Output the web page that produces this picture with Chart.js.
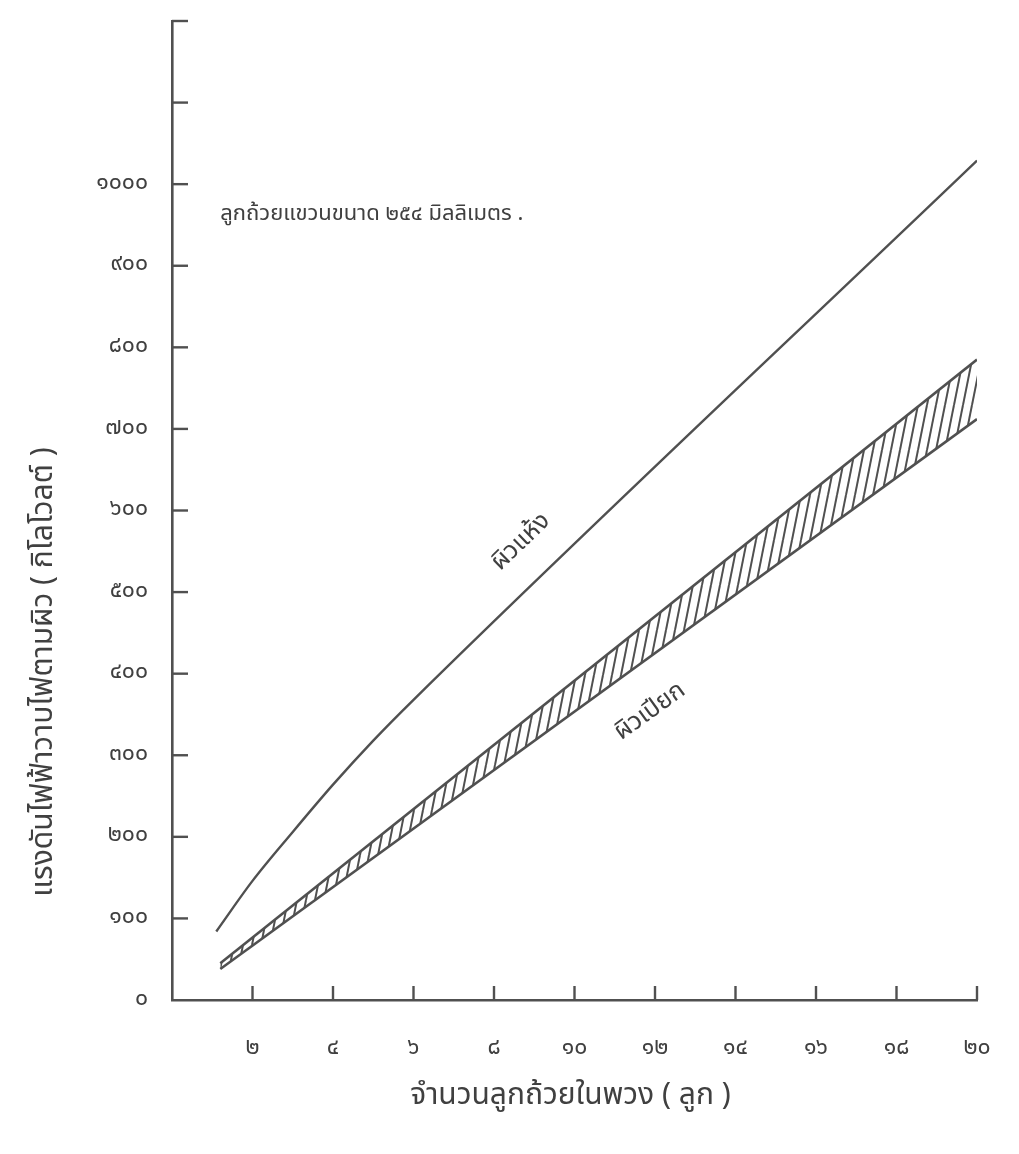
<!DOCTYPE html>
<html>
<head>
<meta charset="utf-8">
<script src="https://cdn.jsdelivr.net/npm/chart.js@4.4.1/dist/chart.umd.min.js"></script>
<style>
  html, body { margin: 0; padding: 0; background: #ffffff; }
  #wrap { width: 1019px; height: 1154px; }
</style>
</head>
<body>
<div id="wrap"><canvas id="c" width="1019" height="1154"></canvas></div>
<script>
// ---- data ----
const dryX = [1.1, 2, 3, 4, 5, 6, 20];
const dryY = [84, 146, 206, 264, 318, 368, 1029];
const wetX = [1.2, 20];
const wetUpperY = [45, 785];
const wetLowerY = [38, 712];
const xTickValues = [2, 4, 6, 8, 10, 12, 14, 16, 18, 20];
const yTickValues = [0, 100, 200, 300, 400, 500, 600, 700, 800, 900, 1000, 1100, 1200];
const yLabelMax = 1000;

const titleText = 'ลูกถ้วยแขวนขนาด ๒๕๔ มิลลิเมตร .';
const dryLabel = 'ผิวแห้ง';
const wetLabel = 'ผิวเปียก';
const xTitle = 'จำนวนลูกถ้วยในพวง ( ลูก )';
const yTitle = 'แรงดันไฟฟ้าวาบไฟตามผิว ( กิโลโวลต์ )';

const THAI_DIGITS = '๐๑๒๓๔๕๖๗๘๙';
function thaiNum(n) { return String(n).replace(/[0-9]/g, d => THAI_DIGITS[+d]); }

const INK = '#505050';
const TEXT = '#404040';
const FONT = '"Noto Sans Thai", "Loma", "Garuda", "Norasi", "Noto Sans", sans-serif';

// hatch pattern
function makeHatch() {
  const w = 9, h = 45;
  const c = document.createElement('canvas');
  c.width = w; c.height = h;
  const g = c.getContext('2d');
  g.strokeStyle = '#505050';
  g.lineWidth = 2;
  for (const off of [-w, 0, w]) {
    g.beginPath();
    g.moveTo(off, h);
    g.lineTo(off + w, 0);
    g.stroke();
  }
  return g.createPattern(c, 'repeat');
}

const toPts = (xs, ys) => xs.map((x, i) => ({ x, y: ys[i] }));

const decor = {
  id: 'decor',
  afterDraw(chart) {
    const { ctx, scales: { x, y }, chartArea } = chart;
    ctx.save();
    // inward tick marks
    ctx.strokeStyle = INK;
    ctx.lineWidth = 2.4;
    yTickValues.forEach(v => {
      if (v === 0) return;
      const py = y.getPixelForValue(v);
      ctx.beginPath();
      ctx.moveTo(chartArea.left, py);
      ctx.lineTo(chartArea.left + 16, py);
      ctx.stroke();
    });
    xTickValues.forEach(v => {
      const px = x.getPixelForValue(v);
      ctx.beginPath();
      ctx.moveTo(px, chartArea.bottom);
      ctx.lineTo(px, chartArea.bottom - 14);
      ctx.stroke();
    });
    ctx.fillStyle = TEXT;
    // annotation
    ctx.font = '22px ' + FONT;
    ctx.textAlign = 'left';
    ctx.textBaseline = 'middle';
    ctx.fillText(titleText, x.getPixelForValue(1.2), y.getPixelForValue(962));
    // dry label
    ctx.save();
    ctx.translate(x.getPixelForValue(8.7), y.getPixelForValue(560));
    ctx.rotate(-44 * Math.PI / 180);
    ctx.textAlign = 'center';
    ctx.font = '25px ' + FONT;
    ctx.fillText(dryLabel, 0, 0);
    ctx.restore();
    // wet label
    ctx.save();
    ctx.translate(x.getPixelForValue(11.9), y.getPixelForValue(352));
    ctx.rotate(-36 * Math.PI / 180);
    ctx.textAlign = 'center';
    ctx.font = '25px ' + FONT;
    ctx.fillText(wetLabel, 0, 0);
    ctx.restore();
    // x title
    ctx.textAlign = 'center';
    ctx.font = '30px ' + FONT;
    ctx.fillText(xTitle, x.getPixelForValue(9.9), chartArea.bottom + 98);
    // y title
    ctx.save();
    ctx.translate(46, y.getPixelForValue(402));
    ctx.rotate(-Math.PI / 2);
    ctx.textAlign = 'center';
    ctx.font = '30px ' + FONT;
    ctx.fillText(yTitle, 0, 0);
    ctx.restore();
    ctx.restore();
  }
};

new Chart(document.getElementById('c'), {
  type: 'line',
  data: {
    datasets: [
      { label: dryLabel, data: toPts(dryX, dryY), borderColor: INK, borderWidth: 2.4,
        pointRadius: 0, fill: false, cubicInterpolationMode: 'monotone' },
      { label: wetLabel + ' (บน)', data: toPts(wetX, wetUpperY), borderColor: INK, borderWidth: 2.6,
        pointRadius: 0, fill: false },
      { label: wetLabel + ' (ล่าง)', data: toPts(wetX, wetLowerY), borderColor: INK, borderWidth: 2.6,
        pointRadius: 0, fill: '-1', backgroundColor: makeHatch() }
    ]
  },
  options: {
    responsive: false,
    animation: false,
    devicePixelRatio: 1,
    layout: { padding: { left: 0, right: 42, top: 21, bottom: 0 } },
    plugins: { legend: { display: false }, tooltip: { enabled: false } },
    scales: {
      x: {
        type: 'linear', min: 0, max: 20,
        afterFit(s) { s.height = 154; s.paddingLeft = 0; s.paddingRight = 0; },
        afterBuildTicks(s) { s.ticks = xTickValues.map(v => ({ value: v })); },
        grid: { display: true, drawOnChartArea: false, drawTicks: false },
        border: { display: true, color: INK, width: 2.6 },
        ticks: { padding: 36, color: TEXT, font: { family: FONT, size: 23 },
                 callback: v => thaiNum(v) }
      },
      y: {
        type: 'linear', min: 0, max: 1200,
        afterFit(s) { s.width = 172; s.paddingTop = 0; s.paddingBottom = 0; },
        afterBuildTicks(s) { s.ticks = yTickValues.map(v => ({ value: v })); },
        grid: { display: true, drawOnChartArea: false, drawTicks: false },
        border: { display: true, color: INK, width: 2.6 },
        ticks: { padding: 24, color: TEXT, font: { family: FONT, size: 23 },
                 callback: v => v > yLabelMax ? '' : thaiNum(v) }
      }
    }
  },
  plugins: [decor]
});
</script>
</body>
</html>
